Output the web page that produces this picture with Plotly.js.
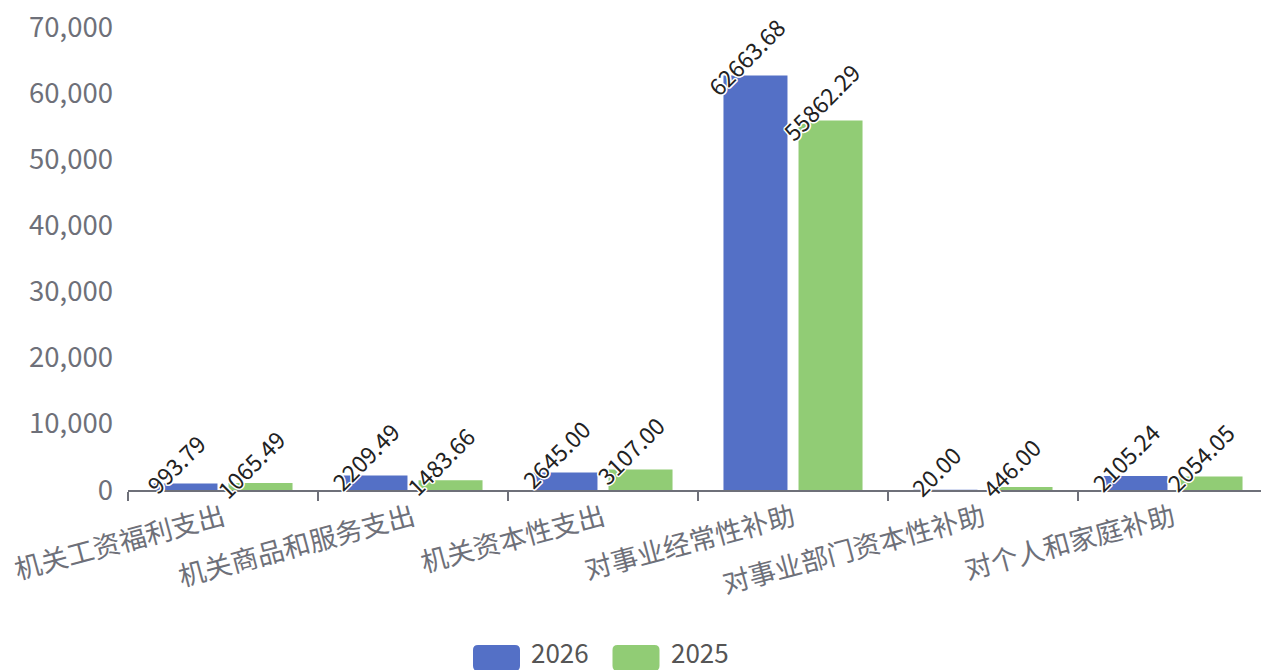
<!DOCTYPE html>
<html>
<head>
<meta charset="utf-8">
<script src="https://cdn.plot.ly/plotly-3.0.1.min.js"></script>
<style>
html,body{margin:0;padding:0;overflow:hidden;background:#fff;}
#chart{width:1275px;height:670px;}
</style>
</head>
<body>
<div id="chart"></div>
<script>
const categories = ["机关工资福利支出","机关商品和服务支出","机关资本性支出","对事业经常性补助","对事业部门资本性补助","对个人和家庭补助"];
const seriesNames = ["2026","2025"];
const values2026 = [993.79, 2209.49, 2645.00, 62663.68, 20.00, 2105.24];
const values2025 = [1065.49, 1483.66, 3107.00, 55862.29, 446.00, 2054.05];
const yTicks = [0,10000,20000,30000,40000,50000,60000,70000];
const colors = ["#5470c6","#91cc75"];

const W = 1275, H = 670;
const L = 128, R = 7, T = 27, B = 180;
const plotW = W - L - R, plotH = H - T - B;
const px2x = p => (p - L) / plotW;
const py2y = p => (H - B - p) / plotH;

const allValues = [values2026, values2025];
const traces = allValues.map((vals, i) => ({
  type: "bar",
  name: seriesNames[i],
  x: categories,
  y: vals,
  marker: {color: colors[i], line: {width: 0}},
  hoverinfo: "x+y"
}));

const outline = "1px 1px 0 #fff, -1px -1px 0 #fff, 1px -1px 0 #fff, -1px 1px 0 #fff, 0 1.5px 0 #fff, 0 -1.5px 0 #fff, 1.5px 0 0 #fff, -1.5px 0 0 #fff";
const annotations = [];
const barOffsets = [-37.5, 37.5];
allValues.forEach((vals, s) => {
  vals.forEach((v, i) => {
    annotations.push({
      x: categories[i], y: v, xref: "x", yref: "y",
      text: v.toFixed(2), showarrow: false, textangle: -45,
      xanchor: "center", yanchor: "middle",
      xshift: barOffsets[s] - 10, yshift: 19,
      font: {family: "Noto Sans CJK SC, Noto Sans, sans-serif", size: 23, color: "#222", shadow: outline}
    });
  });
});

// legend (custom, rounded swatches)
function rrect(w, h, r) {
  const x0 = -w/2, x1 = w/2, y0 = -h/2, y1 = h/2;
  return `M${x0+r},${y0} L${x1-r},${y0} Q${x1},${y0} ${x1},${y0+r} L${x1},${y1-r} Q${x1},${y1} ${x1-r},${y1} L${x0+r},${y1} Q${x0},${y1} ${x0},${y1-r} L${x0},${y0+r} Q${x0},${y0} ${x0+r},${y0} Z`;
}
const legendBoxes = [496.5, 636];
const legendTexts = [530, 670];
const shapes = [];
seriesNames.forEach((n, i) => {
  shapes.push({
    type: "path", xref: "paper", yref: "paper",
    xsizemode: "pixel", ysizemode: "pixel",
    xanchor: px2x(legendBoxes[i]), yanchor: py2y(658),
    path: rrect(47, 26, 5),
    fillcolor: colors[i], line: {width: 0}
  });
  annotations.push({
    xref: "paper", yref: "paper", x: px2x(legendTexts[i]), y: py2y(651),
    xanchor: "left", yanchor: "middle", showarrow: false, text: n, borderpad: 0,
    font: {family: "Noto Sans CJK SC, Noto Sans, sans-serif", size: 26, color: "#555"}
  });
});

const layout = {
  width: W, height: H,
  margin: {l: L, r: R, t: T, b: B, pad: 0},
  paper_bgcolor: "#fff", plot_bgcolor: "#fff",
  barmode: "group", bargap: 0.21, bargroupgap: 0.147,
  showlegend: false,
  font: {family: "Noto Sans CJK SC, Noto Sans, sans-serif", color: "#6e7079"},
  xaxis: {
    type: "category", categoryarray: categories,
    showline: true, linecolor: "#6e7079", linewidth: 2,
    ticks: "outside", tickson: "boundaries", ticklen: 9, tickwidth: 2, tickcolor: "#6e7079",
    tickangle: -15, tickfont: {size: 27, color: "#6e7079"},
    showgrid: false, zeroline: false, fixedrange: true
  },
  yaxis: {
    range: [0, 70000], tickvals: yTicks, tickformat: ",d",
    showline: false, showgrid: false, zeroline: false, ticks: "",
    ticklabelstandoff: 14,
    tickfont: {size: 27.5, color: "#6e7079"}, fixedrange: true
  },
  annotations: annotations,
  shapes: shapes
};

Plotly.newPlot("chart", traces, layout, {displayModeBar: false, staticPlot: true});
</script>
</body>
</html>
